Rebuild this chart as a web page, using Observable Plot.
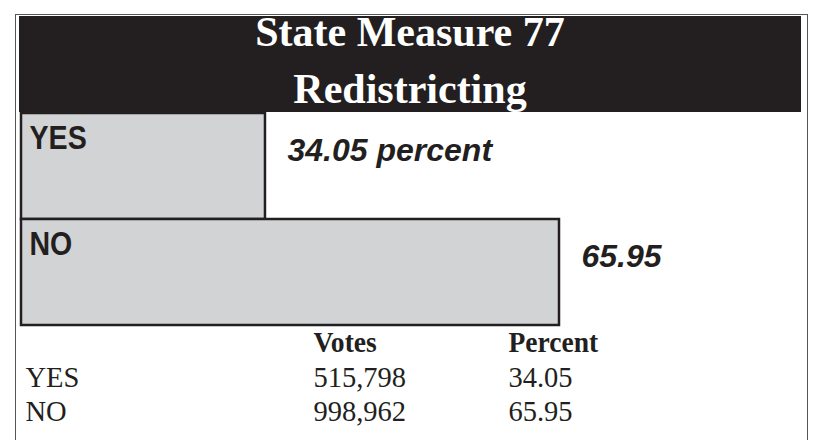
<!DOCTYPE html>
<html>
<head>
<meta charset="utf-8">
<script src="https://cdn.jsdelivr.net/npm/d3@7"></script>
<script src="https://cdn.jsdelivr.net/npm/@observablehq/plot@0.6"></script>
<style>
  html, body { margin: 0; padding: 0; background: #fff; }
  #wrap { position: relative; width: 819px; height: 440px; overflow: hidden; }
  #border { position: absolute; left: 15px; top: 14px; width: 791px; height: 520px; border: 1.5px solid #555; }
  #band { position: absolute; left: 19px; top: 16px; width: 782px; height: 96px; background: #231f20; }
  #title { position: absolute; left: 19px; top: 4px; width: 782px; text-align: center; color: #fff;
           font-family: "Liberation Serif", "Times New Roman", serif; font-weight: bold; font-size: 42px; line-height: 57px; }
  #chart { position: absolute; left: 0; top: 0; }
</style>
</head>
<body>
<div id="wrap">
  <div id="border"></div>
  <div id="band"></div>
  <div id="title"></div>
  <div id="chart"></div>
</div>
<script>
// ---- data ----
const titleLines = ["State Measure 77", "Redistricting"];
const answers = ["YES", "NO"];
const votes = [515798, 998962];
const percents = [34.05, 65.95];
const barLabels = ["34.05 percent", "65.95"];
const tableHeaders = ["Votes", "Percent"];
const percentLabels = ["34.05", "65.95"];

// ---- layout / config ----
const axisStart = 7.58;           // truncated value axis start (bars begin here)
const ink = "#231f20";
const serif = "'Liberation Serif', 'Times New Roman', serif";
const sans = "'Liberation Sans', Arial, sans-serif";
const colX = [25, 313, 508];
const rowBase = [351, 386, 420];

document.getElementById("title").innerHTML = titleLines.join("<br>");

const rows = answers.map((a, i) => ({answer: a, votes: votes[i], pct: percents[i], label: barLabels[i]}));
const fmt = d3.format(",");

const tableMarks = [];
tableHeaders.forEach((h, j) => {
  tableMarks.push(Plot.text([h], {frameAnchor: "top-left", text: d => d, dx: colX[j + 1], dy: rowBase[0],
    textAnchor: "start", lineAnchor: "bottom", fontFamily: serif, fontWeight: "bold", fontSize: 29, fill: ink}));
});
rows.forEach((r, i) => {
  const cells = [r.answer, fmt(r.votes), percentLabels[i]];
  cells.forEach((c, j) => {
    tableMarks.push(Plot.text([c], {frameAnchor: "top-left", text: d => d, dx: colX[j], dy: rowBase[i + 1],
      textAnchor: "start", lineAnchor: "bottom", fontFamily: serif, fontSize: 30, fill: ink}));
  });
});

const chart = Plot.plot({
  width: 819,
  height: 440,
  margin: 0,
  style: {background: "transparent", overflow: "visible"},
  x: {type: "linear", domain: [axisStart, 65.95], range: [21, 559], axis: null},
  y: {type: "band", domain: answers, range: [113, 325], padding: 0, axis: null},
  marks: [
    Plot.barX(rows, {x1: () => axisStart, x2: "pct", y: "answer", fill: "#d1d3d4", stroke: ink, strokeWidth: 2.5}),
    Plot.text(rows, {x: () => axisStart, y: "answer", text: "answer", textAnchor: "start", lineAnchor: "bottom",
      dx: 8, dy: -18, fontFamily: sans, fontWeight: "bold", fontSize: 34, fill: ink}),
    Plot.text(rows, {x: "pct", y: "answer", text: "label", textAnchor: "start", lineAnchor: "bottom",
      dx: 22, dy: -5.5, fontFamily: sans, fontWeight: "bold", fontStyle: "italic", fontSize: 32, fill: ink}),
    ...tableMarks
  ]
});
// condensed lettering: squeeze glyphs horizontally via textLength
document.getElementById("chart").appendChild(chart);
chart.querySelectorAll("text").forEach(t => {
  const g = t.closest("g[font-size]");
  const fs = g ? g.getAttribute("font-size") : null;
  let k = null;
  if (fs === "34") k = 0.84;
  else if (fs === "30" || fs === "29") k = 0.95;
  if (k) {
    const w = t.getComputedTextLength();
    t.setAttribute("textLength", (w * k).toFixed(1));
    t.setAttribute("lengthAdjust", "spacingAndGlyphs");
  }
});
</script>
</body>
</html>
